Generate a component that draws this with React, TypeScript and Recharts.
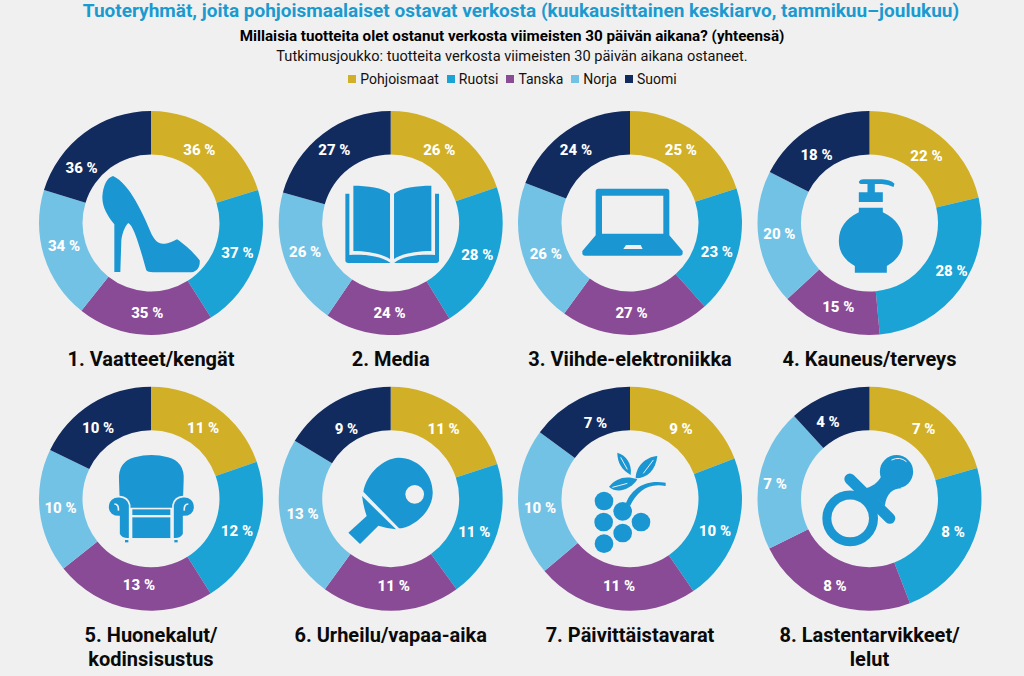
import { PieChart, Pie, Cell, Legend } from "recharts";

const TITLE = "Tuoteryhmät, joita pohjoismaalaiset ostavat verkosta (kuukausittainen keskiarvo, tammikuu–joulukuu)";
const QUESTION = "Millaisia tuotteita olet ostanut verkosta viimeisten 30 päivän aikana? (yhteensä)";
const SAMPLE = "Tutkimusjoukko: tuotteita verkosta viimeisten 30 päivän aikana ostaneet.";

const series = ["Pohjoismaat", "Ruotsi", "Tanska", "Norja", "Suomi"];
const colors = ["#d1b027", "#1ba3d6", "#8a4b96", "#72c2e6", "#122b5e"];

const vaatteet = [36, 37, 35, 34, 36];
const media = [26, 28, 24, 26, 27];
const viihde = [25, 23, 27, 26, 24];
const kauneus = [22, 28, 15, 20, 18];
const huonekalut = [11, 12, 13, 10, 10];
const urheilu = [11, 11, 11, 13, 9];
const paivittais = [9, 10, 11, 10, 7];
const lasten = [7, 8, 8, 7, 4];

const groups = [vaatteet, media, viihde, kauneus, huonekalut, urheilu, paivittais, lasten];
const names = [
  ["1. Vaatteet/kengät"],
  ["2. Media"],
  ["3. Viihde-elektroniikka"],
  ["4. Kauneus/terveys"],
  ["5. Huonekalut/", "kodinsisustus"],
  ["6. Urheilu/vapaa-aika"],
  ["7. Päivittäistavarat"],
  ["8. Lastentarvikkeet/", "lelut"],
];

const BG = "#f0f0f0";
const ICON = "#1a96d2";
const FONT = "Roboto, sans-serif";
const centersX = [151, 390.7, 630, 869.5];
const centersY = [223, 498.7];
const RAD = Math.PI / 180;

// käsin siirretyt prosenttilukujen paikat, dx/dy viipaleen keskikohdasta
const labelNudges = [
  [[-5, -1], [2, -1], [1, 0], [-1, -4], [-16, 17]],
  [[-4, 0], [2, 1], [1, 0], [-1, -2], [-2, -1]],
  [[-2, 0], [0, 6], [-3, 0], [2, 5], [-3, 1]],
  [[1, 3], [9, -5], [1, 0], [-1, -1], [-6, 9]],
  [[0, 3], [1, 3], [3, -2], [-1, -1], [-5, 6]],
  [[0, 3], [-2, 5], [3, -3], [0, -3], [0, 9]],
  [[0, 4], [-1, 6], [1, -2], [0, 6], [6, 5]],
  [[0, 2], [3, -7], [-2, 3], [-6, 2], [-9, 7]],
];

function sliceLabel(g: number) {
  return (props: any) => {
    const { cx, cy, midAngle, value, index } = props;
    const r = 90;
    const [dx, dy] = labelNudges[g][index];
    return (
      <text
        x={cx + r * Math.cos(-midAngle * RAD) + dx}
        y={cy + r * Math.sin(-midAngle * RAD) + dy}
        fill="#fff"
        fontFamily={FONT}
        fontWeight={800}
        fontSize={15}
        textAnchor="middle"
        dominantBaseline="central"
      >
        {value} %
      </text>
    );
  };
}

function SeriesLegend() {
  return (
    <div style={{ display: "flex", justifyContent: "center", gap: 8, marginLeft: 1, fontFamily: FONT, fontSize: 14, lineHeight: "18px", color: "#111" }}>
      {series.map((s, i) => (
        <span key={s} style={{ display: "flex", alignItems: "center", gap: 4 }}>
          <span style={{ width: 8, height: 8, background: colors[i] }} />
          {s}
        </span>
      ))}
    </div>
  );
}

// ikonit on piirretty 3x mittakaavassa, keskipiste annettuna
function Shoe() {
  return (
    <g transform="scale(0.3333) translate(-394,-368)">
      <path d="M280,227 C262,232 250,255 248,290 C248,320 262,345 284,372 L284,515 L302,515 L305,420 C308,395 318,375 326,368 C340,375 355,420 380,510 C384,515 390,515 400,516 L515,516 C535,514 542,495 540,480 C525,460 495,432 472,417 C455,425 445,432 430,430 C415,430 405,420 395,400 C370,340 330,250 280,227 Z" />
    </g>
  );
}

function Book() {
  return (
    <g transform="scale(0.3333) translate(-362,-368)">
      <path d="M250,256 C290,256 340,262 360,280 L360,476 C335,460 290,452 250,452 Z" />
      <path d="M372,280 C392,262 440,256 484,256 L484,452 C440,452 395,460 372,476 Z" />
      <path d="M226,280 L238,280 L238,464 C280,462 330,465 362,488 L235,488 Q226,488 226,480 Z" />
      <path d="M507,280 L495,280 L495,464 C450,462 400,465 372,488 L498,488 Q507,488 507,480 Z" />
    </g>
  );
}

function Laptop() {
  return (
    <g transform="scale(0.3333) translate(-1080,-368)">
      <path
        fillRule="evenodd"
        d="M985,265 L1190,265 Q1198,265 1198,273 L1198,405 L1238,452 L1238,458 Q1238,466 1230,466 L945,466 Q937,466 937,458 L937,452 L977,405 L977,273 Q977,265 985,265 Z M996,286 L996,400 L1180,400 L1180,286 Z M1068,434 L1060,446 L1118,446 L1112,434 Z"
      />
    </g>
  );
}

function Pump() {
  return (
    <g transform="scale(0.3333) translate(-358,-368)">
      <path d="M326,244 Q330,237 340,237 L395,237 Q420,238 433,250 L430,260 Q415,252 395,251 L374,251 L374,276 L398,276 L398,305 L326,305 L326,276 L352,276 L352,251 L336,251 Q326,251 326,244 Z" />
      <path d="M326,322 L398,322 L398,336 Q458,365 458,422 Q458,470 410,497 L410,517 L314,517 L314,497 Q266,470 266,422 Q266,365 326,336 Z" />
    </g>
  );
}

function Chair() {
  const arm = "M300,350 C280,348 265,360 265,382 C265,400 280,410 298,410 L298,462 Q305,478 330,476 L330,375 Q325,352 300,350 Z";
  return (
    <g transform="scale(0.3333) translate(-394,-356)">
      <path d="M345,232 Q395,218 445,232 Q495,245 492,300 L490,360 L460,383 L330,383 L300,360 L298,300 Q295,245 345,232 Z" />
      <path d={arm} stroke={BG} strokeWidth={5} />
      <path d={arm} stroke={BG} strokeWidth={5} transform="translate(790,0) scale(-1,1)" />
      <path d="M284,372 Q298,372 296,392" fill="none" stroke={BG} strokeWidth={5} />
      <path d="M506,372 Q492,372 494,392" fill="none" stroke={BG} strokeWidth={5} />
      <rect x={338} y={388} width={114} height={17} />
      <rect x={338} y={412} width={114} height={62} />
      <rect x={316} y={480} width={10} height={7} />
      <rect x={464} y={480} width={10} height={7} />
    </g>
  );
}

function Paddle() {
  return (
    <g transform="scale(0.3333) translate(-1112,-356)">
      <path d="M1030,335 C1040,280 1090,235 1135,233 C1190,232 1240,280 1238,340 C1237,390 1190,435 1145,445 L1137,445 Z" />
      <path d="M1026,348 L1128,448 Q1100,445 1075,437 L1020,492 L985,458 L1040,408 Q1030,380 1026,348 Z" />
      <circle cx={1184} cy={343} r={28} fill={BG} />
    </g>
  );
}

function Grapes() {
  return (
    <g transform="scale(0.3333) translate(-358,-356)">
      {[[280, 363], [336, 394], [279, 426], [336, 459], [391, 426], [280, 491]].map(([x, y]) => (
        <circle key={`${x}-${y}`} cx={x} cy={y} r={28} />
      ))}
      <path d="M345,372 C360,330 400,296 465,308 L465,318 C410,308 380,335 358,378 Z" />
      <path d="M320,218 C345,225 365,250 360,285 C335,270 320,250 320,218 Z" />
      <path d="M440,228 C435,270 410,295 375,295 C375,260 405,230 440,228 Z" />
      <path d="M295,320 C315,295 345,285 380,298 C365,325 320,345 295,320 Z" />
      <path d="M330,232 L350,268 M428,240 L398,280 M305,322 L350,310" fill="none" stroke={BG} strokeWidth={3} />
    </g>
  );
}

function Pacifier() {
  return (
    <g transform="scale(0.3333) translate(-1079,-356)">
      <circle cx={1021} cy={415} r={70} fill="none" stroke={ICON} strokeWidth={27} />
      <path d="M1020,297 L1140,415" fill="none" stroke={ICON} strokeWidth={33} strokeLinecap="round" />
      <circle cx={1160} cy={275} r={50} />
      <path d="M1068,325 C1095,318 1112,300 1118,280 L1175,325 C1150,325 1130,340 1125,378 Z" />
      <path d="M1145,240 Q1170,228 1190,245" fill="none" stroke={BG} strokeWidth={3} />
    </g>
  );
}

const icons = [Shoe, Book, Laptop, Pump, Chair, Paddle, Grapes, Pacifier];

export default function App() {
  return (
    <div style={{ position: "fixed", left: 0, top: 0, width: 1024, height: 676, background: BG, overflow: "hidden" }}>
      <div style={{ position: "absolute", top: 0, left: 9, width: 1024, textAlign: "center", fontFamily: FONT, fontWeight: 700, fontSize: 19, lineHeight: "22px", color: "#1b9ad0" }}>
        {TITLE}
      </div>
      <div style={{ position: "absolute", top: 27, width: 1024, textAlign: "center", fontFamily: FONT, fontWeight: 700, fontSize: 15.2, lineHeight: "18px", color: "#000" }}>
        {QUESTION}
      </div>
      <div style={{ position: "absolute", top: 47, width: 1024, textAlign: "center", fontFamily: FONT, fontSize: 14.6, lineHeight: "18px", color: "#111" }}>
        {SAMPLE}
      </div>
      <PieChart width={1024} height={676} margin={{ top: 0, right: 0, bottom: 0, left: 0 }}>
        <Legend content={SeriesLegend} verticalAlign="middle" wrapperStyle={{ top: 70, left: 0, width: 1024 }} />
        {groups.map((values, g) => (
          <Pie
            key={names[g][0]}
            data={values.map((value, i) => ({ name: series[i], value }))}
            dataKey="value"
            nameKey="name"
            cx={centersX[g % 4]}
            cy={centersY[g < 4 ? 0 : 1]}
            innerRadius={68.5}
            outerRadius={112}
            startAngle={90}
            endAngle={-270}
            stroke="none"
            label={sliceLabel(g)}
            labelLine={false}
            isAnimationActive={false}
          >
            {values.map((_, i) => <Cell key={i} fill={colors[i]} />)}
          </Pie>
        ))}
      </PieChart>
      <svg width={1024} height={676} style={{ position: "absolute", left: 0, top: 0, pointerEvents: "none" }}>
        {icons.map((Icon, g) => (
          <g key={g} fill={ICON} transform={`translate(${centersX[g % 4]},${centersY[g < 4 ? 0 : 1]})`}>
            <Icon />
          </g>
        ))}
        {names.map((lines, g) =>
          lines.map((line, l) => (
            <text
              key={line}
              x={centersX[g % 4]}
              y={(g < 4 ? 366 : 642) + l * 24}
              textAnchor="middle"
              fontFamily={FONT}
              fontWeight={700}
              fontSize={20}
              fill="#0a0a0a"
            >
              {line}
            </text>
          ))
        )}
      </svg>
    </div>
  );
}
